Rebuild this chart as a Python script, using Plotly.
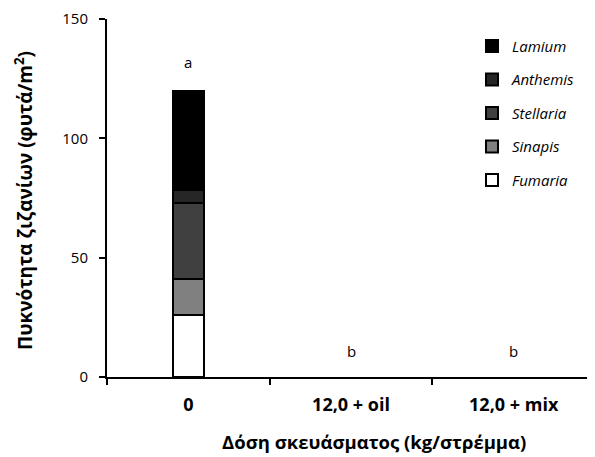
import plotly.graph_objects as go

categories = ["0", "12,0 + oil", "12,0 + mix"]
species = ["Fumaria", "Sinapis", "Stellaria", "Anthemis", "Lamium"]
fumaria = [26, 0, 0]
sinapis = [15, 0, 0]
stellaria = [32, 0, 0]
anthemis = [5.5, 0, 0]
lamium = [41.5, 0, 0]
letters = ["a", "b", "b"]
letter_y = [132, 11, 11]
y_ticks = [0, 50, 100, 150]
x_title = "Δόση σκευάσματος (kg/στρέμμα)"
y_title = "Πυκνότητα ζιζανίων (φυτά/m<sup>2</sup>)"

series = [fumaria, sinapis, stellaria, anthemis, lamium]
colors = ["#ffffff", "#808080", "#404040", "#262626", "#000000"]

FONT = "Open Sans"
fig = go.Figure()
for i, (name, vals, col) in enumerate(zip(species, series, colors)):
    fig.add_trace(go.Bar(
        x=categories, y=vals, name="<i>" + name + "</i>",
        marker=dict(color=col,
                    line=dict(color="black", width=[2 if v > 0 else 0 for v in vals])),
        width=0.19, legendgroup=name, legendrank=len(species) - i,
    ))

for c, t, yy in zip(categories, letters, letter_y):
    fig.add_annotation(x=c, y=yy, text=t, showarrow=False,
                       font=dict(family=FONT, size=15, color="black"))

fig.add_annotation(text="<b>" + x_title + "</b>", xref="paper", yref="paper",
                   x=0.547, y=-0.179, xanchor="center", yanchor="middle",
                   showarrow=False, font=dict(family=FONT, size=18.5, color="black"))
fig.add_annotation(text="<b>" + y_title + "</b>", xref="paper", yref="paper",
                   x=-0.17, y=0.492, xanchor="center", yanchor="middle",
                   textangle=-90, showarrow=False,
                   font=dict(family=FONT, size=19, color="black"))

fig.update_layout(
    width=587, height=449,
    margin=dict(l=99, r=0, t=11, b=80),
    barmode="stack",
    plot_bgcolor="white", paper_bgcolor="white",
    font=dict(family=FONT, color="black"),
    showlegend=True,
    legend=dict(x=0.748, y=0.97, xanchor="left", yanchor="top",
                traceorder="grouped", tracegroupgap=11,
                font=dict(family=FONT, size=15), itemwidth=30,
                bgcolor="rgba(0,0,0,0)"),
    xaxis=dict(range=[-0.5, 2.5], showline=True, linecolor="black", linewidth=2,
               ticks="outside", tickcolor="black", ticklen=6, tickwidth=2,
               tickson="boundaries", ticklabelstandoff=10,
               tickfont=dict(family=FONT, size=18, weight="bold")),
    yaxis=dict(range=[0, 150], tickvals=y_ticks, showline=True, linecolor="black",
               linewidth=2, ticks="outside", tickcolor="black", ticklen=6,
               tickwidth=2, showgrid=False, zeroline=False, ticklabelstandoff=8,
               tickfont=dict(family=FONT, size=15)),
)
fig.write_html("out.html")
